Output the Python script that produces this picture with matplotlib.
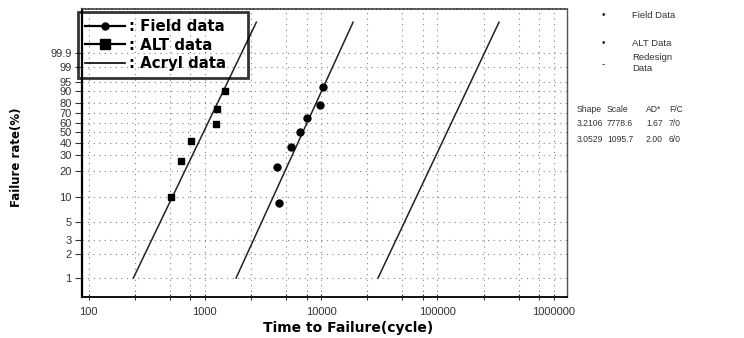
import numpy as np
import matplotlib
matplotlib.use('Agg')
import matplotlib.pyplot as plt
from matplotlib.ticker import FixedLocator, FixedFormatter, NullFormatter
from matplotlib.lines import Line2D

# ---------------- data ----------------
field_t = [4350, 4200, 5480, 6590, 7600, 9800, 10450]
field_F = [8.6, 22.5, 36.2, 50.7, 64.8, 78.5, 92.3]
alt_t = [509, 624, 757, 1242, 1265, 1493]
alt_F = [10.1, 26.0, 41.7, 58.4, 74.2, 90.3]

fit_names = ['Field data', 'ALT data', 'Acryl data']
fit_shape = [3.2106, 3.0529, 3.105]
fit_scale = [7778.6, 1095.7, 135700.0]
line_F_start = 1.0
line_F_end = 99.999996

y_ticks = [1, 2, 3, 5, 10, 20, 30, 40, 50, 60, 70, 80, 90, 95, 99, 99.9]
y_tick_labels = ['1', '2', '3', '5', '10', '20', '30', '40', '50', '60',
                 '70', '80', '90', '95', '99', '99.9']
x_ticks = [100, 1000, 10000, 100000, 1000000]
x_tick_labels = ['100', '1000', '10000', '100000', '1000000']
x_minor_mult = [2.5, 5, 7.5]

side_labels = ['Field Data', 'ALT Data', 'Redesign\nData']
side_marks = ['\u2022', '\u2022', '-']
table_header = ['Shape', 'Scale', 'AD*', 'F/C']
table_rows = [['3.2106', '7778.6', '1.67', '7/0'],
              ['3.0529', '1095.7', '2.00', '6/0']]

# ---------------- helpers ----------------
W, H = 744, 338


def fx(px):
    return px / W


def fy(py):
    return 1 - py / H


def wb_fwd(F):
    p = np.clip(np.asarray(F, dtype=float) / 100.0, 1e-15, 1 - 1e-15)
    return np.log(-np.log1p(-p))


def wb_inv(y):
    return 100.0 * (-np.expm1(-np.exp(np.asarray(y, dtype=float))))


fig = plt.figure(figsize=(W / 100, H / 100), dpi=100)
fig.patch.set_facecolor('white')
ax = fig.add_axes([fx(81.5), fy(297), fx(567) - fx(81.5), fy(9) - fy(297)])

ax.set_xscale('log')
ax.set_yscale('function', functions=(wb_fwd, wb_inv))
ax.set_xlim(87, 1.30e6)
ax.set_ylim(float(wb_inv(-5.152)), float(wb_inv(3.22)))

# fitted lines
for shape, scale in zip(fit_shape, fit_scale):
    Fs = np.array([line_F_start, line_F_end])
    ts = scale * (-np.log1p(-Fs / 100.0)) ** (1.0 / shape)
    ax.plot(ts, Fs, color='#222222', lw=1.1, zorder=3)

# data points
ax.plot(field_t, field_F, 'o', color='black', ms=5, zorder=4, ls='none')
ax.plot(alt_t, alt_F, 's', color='black', ms=5, zorder=4, ls='none')

# ticks
ax.yaxis.set_major_locator(FixedLocator(y_ticks))
ax.yaxis.set_major_formatter(FixedFormatter(y_tick_labels))
ax.yaxis.set_minor_locator(FixedLocator([]))
ax.xaxis.set_major_locator(FixedLocator(x_ticks))
ax.xaxis.set_major_formatter(FixedFormatter(x_tick_labels))
minors = [m * d for d in [100, 1000, 10000, 100000] for m in x_minor_mult]
ax.xaxis.set_minor_locator(FixedLocator(minors))
ax.xaxis.set_minor_formatter(NullFormatter())

for lab in ax.get_yticklabels() + ax.get_xticklabels():
    lab.set_fontfamily('Liberation Sans')
    lab.set_fontsize(8)
    lab.set_color('#333333')
ax.tick_params(axis='y', which='major', direction='out', length=5, width=0.8, pad=2,
               color='#333333')
ax.tick_params(axis='x', which='both', direction='inout', length=4, width=0.8, pad=5,
               color='#333333')

# grid
grid_kw = dict(color='#808080', lw=0.8, ls=(0, (1, 4)))
ax.grid(True, which='major', axis='both', **grid_kw)
ax.grid(True, which='minor', axis='x', **grid_kw)
ax.set_axisbelow(True)

# spines
ax.spines['left'].set_linewidth(1.6)
ax.spines['left'].set_color('black')
ax.spines['bottom'].set_linewidth(1.4)
ax.spines['bottom'].set_linestyle((0, (1.5, 0.8)))
ax.spines['bottom'].set_color('#111111')
ax.spines['top'].set_linewidth(1.2)
ax.spines['top'].set_linestyle((0, (1.5, 0.8)))
ax.spines['top'].set_color('#444444')
ax.spines['right'].set_linewidth(1.0)
ax.spines['right'].set_linestyle((0, (1.5, 0.8)))
ax.spines['right'].set_color('#555555')

# legend
handles = [Line2D([], [], color='black', lw=1.6, marker='o', ms=5),
           Line2D([], [], color='black', lw=1.6, marker='s', ms=7),
           Line2D([], [], color='black', lw=1.2)]
labels = [': ' + n for n in fit_names]
leg = fig.legend(handles, labels, loc='upper left',
                 bbox_to_anchor=(fx(78), fy(73), fx(248) - fx(78), fy(12) - fy(73)),
                 mode='expand', borderaxespad=0, borderpad=0.45,
                 handlelength=2.7, handletextpad=0.25, labelspacing=0.25,
                 fancybox=False, facecolor='none', edgecolor='black',
                 prop=dict(family='DejaVu Sans', weight='bold', size=10.8))
leg.get_frame().set_linewidth(2.0)

# axis labels
fig.text(fx(17), fy(157), 'Failure rate(%)', rotation=90, ha='center', va='center',
         fontsize=8.5, fontweight='bold', family='DejaVu Sans')
fig.text(fx(348), fy(328), 'Time to Failure(cycle)', ha='center', va='center',
         fontsize=10, fontweight='bold', family='DejaVu Sans')

# side annotations
side_y = [15, 43, 64]
for mark, lab, yy in zip(side_marks, side_labels, side_y):
    fig.text(fx(603), fy(yy), mark, ha='center', va='center', fontsize=7,
             family='Liberation Sans', color='#222222')
    fig.text(fx(632), fy(yy - 1 if '\n' in lab else yy), lab, ha='left', va='center',
             fontsize=6.8, family='Liberation Sans', color='#333333', linespacing=1.15)

col_x = [577, 607, 646, 669]
fig_rows = [table_header] + table_rows
row_y = [109, 124, 139]
for row, yy in zip(fig_rows, row_y):
    for txt, xx in zip(row, col_x):
        fig.text(fx(xx), fy(yy), txt, ha='left', va='center', fontsize=6.2,
                 family='Liberation Sans', color='#333333')

fig.savefig('out.png', dpi=100)
